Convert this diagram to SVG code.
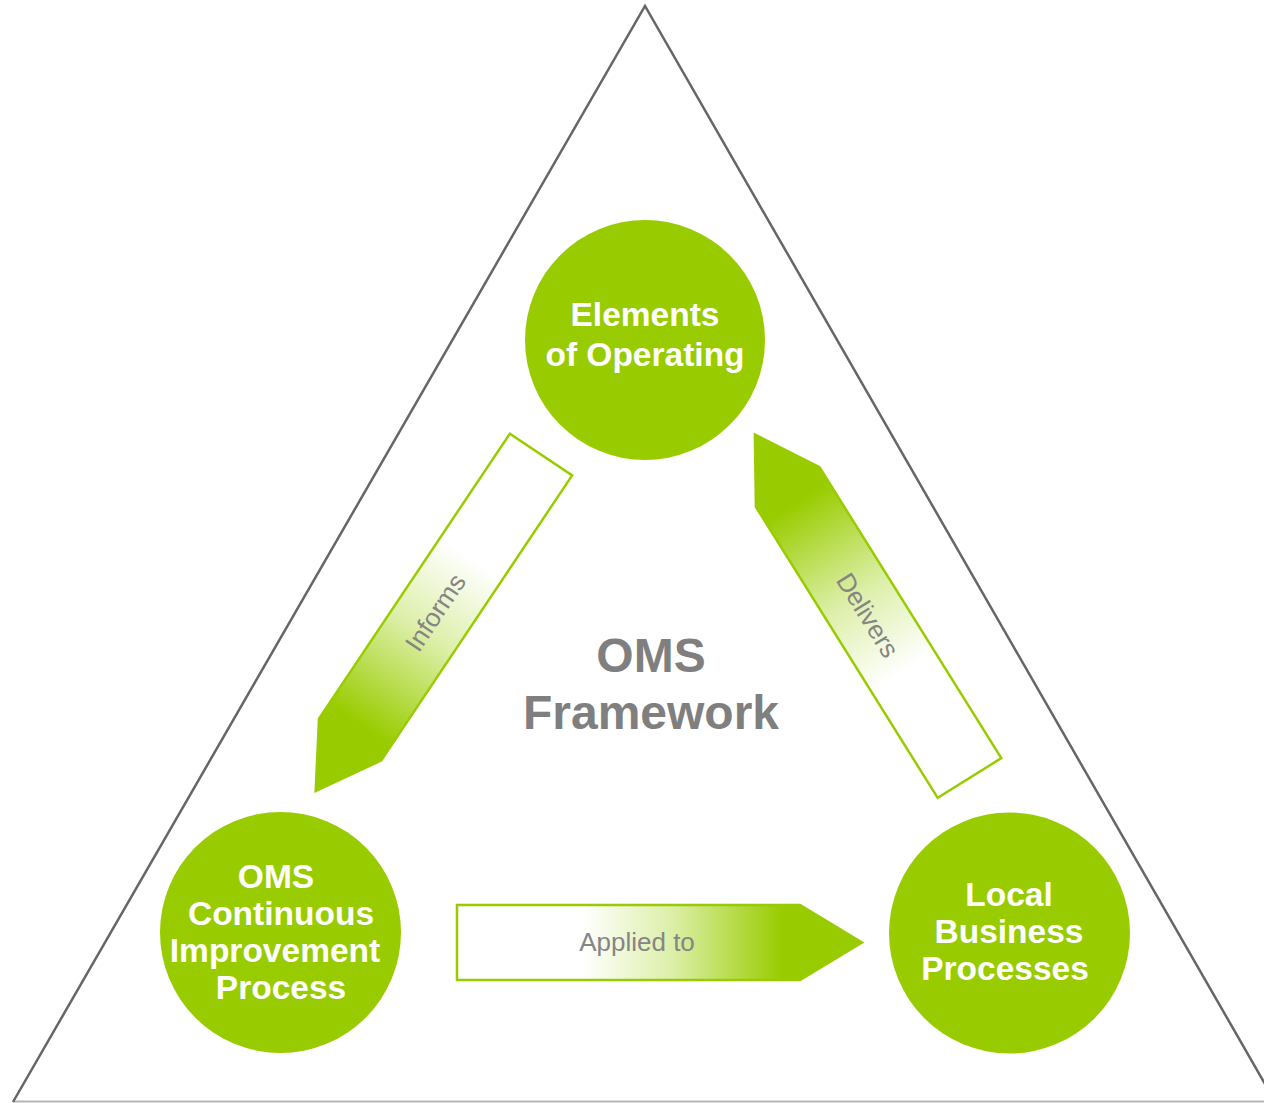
<svg xmlns="http://www.w3.org/2000/svg" width="1264" height="1103" viewBox="0 0 1264 1103">
  <style>
    .node { fill: #99cc00; }
    .ntext { font-family: "Liberation Sans", Arial, sans-serif; font-weight: bold; font-size: 33.5px; fill: #ffffff; text-anchor: middle; }
    .arrow { fill: url(#grad); stroke: #99cc00; stroke-width: 2.5; stroke-linejoin: miter; }
    .atext { font-family: "Liberation Sans", Arial, sans-serif; font-size: 26px; fill: #858585; text-anchor: middle; }
    .title { font-family: "Liberation Sans", Arial, sans-serif; font-weight: bold; font-size: 48px; fill: #7f7f7f; text-anchor: middle; }
  </style>
  <defs>
    <linearGradient id="grad" gradientUnits="userSpaceOnUse" x1="125" y1="0" x2="325" y2="0">
      <stop offset="0" stop-color="#ffffff"/>
      <stop offset="0.45" stop-color="#dcefa8"/>
      <stop offset="1" stop-color="#99cc00"/>
    </linearGradient>
    <path id="arrowShape" d="M0,-37.5 L343,-37.5 L405,0 L343,37.5 L0,37.5 Z"/>
  </defs>
  <rect width="1264" height="1103" fill="#ffffff"/>
  <g id="frame">
    <line x1="13" y1="1101.5" x2="1264" y2="1101.5" stroke="#b5b5b5" stroke-width="2"/>
    <polyline points="13,1102 645,6 1276,1103" fill="none" stroke="#666666" stroke-width="2.5"/>
  </g>
  <g id="connectors">
    <g id="informs" transform="translate(541,454.5) rotate(123.8)">
      <use href="#arrowShape" class="arrow"/>
      <text class="atext" transform="translate(190,0) rotate(180)" y="9">Informs</text>
    </g>
    <g id="delivers" transform="translate(969.5,778) rotate(-122)">
      <use href="#arrowShape" class="arrow"/>
      <text class="atext" transform="translate(192,0) rotate(180)" y="9">Delivers</text>
    </g>
    <g id="applied" transform="translate(457,942.5)">
      <use href="#arrowShape" class="arrow"/>
      <text class="atext" x="180" y="8">Applied to</text>
    </g>
  </g>
  <g id="node-elements">
    <circle class="node" cx="645" cy="340" r="120"/>
    <text class="ntext" x="645" y="326">Elements</text>
    <text class="ntext" x="645" y="366">of Operating</text>
  </g>
  <g id="node-oms-cip">
    <circle class="node" cx="280.5" cy="932.5" r="120.5"/>
    <text class="ntext" x="276" y="888">OMS</text>
    <text class="ntext" x="281" y="925">Continuous</text>
    <text class="ntext" x="275" y="962">Improvement</text>
    <text class="ntext" x="281" y="999">Process</text>
  </g>
  <g id="node-local">
    <circle class="node" cx="1009.5" cy="933" r="120.5"/>
    <text class="ntext" x="1009" y="906">Local</text>
    <text class="ntext" x="1009" y="943">Business</text>
    <text class="ntext" x="1005" y="980">Processes</text>
  </g>
  <g id="title">
    <text class="title" x="651" y="672">OMS</text>
    <text class="title" x="651" y="729">Framework</text>
  </g>
</svg>
